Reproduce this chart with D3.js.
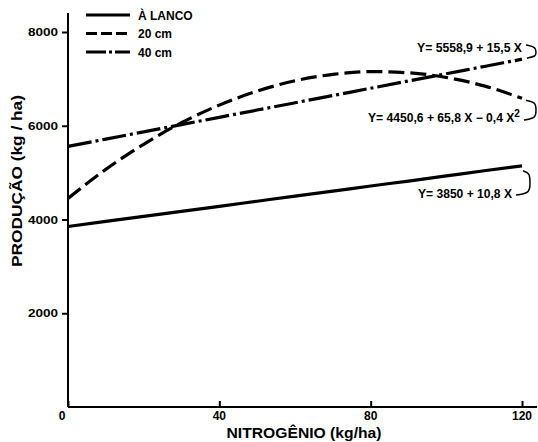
<!DOCTYPE html>
<html lang="pt">
<head>
<meta charset="UTF-8">
<script src="https://cdn.jsdelivr.net/npm/d3@7"></script>
<title>Produção x Nitrogênio</title>
<style>
  body { margin: 0; background: #fff; }
  svg text { font-family: "Liberation Sans", Arial, sans-serif; font-weight: bold; fill: #000; }
  .axis path, .axis line { stroke: #000; stroke-width: 2; }
</style>
</head>
<body>
<div id="chart"></div>
<script>
// valores (kg/ha)
var nitrogenio = [0, 10, 20, 30, 40, 50, 60, 70, 80, 90, 100, 110, 120];
var lanco = [3850, 3960, 4065, 4175, 4280, 4390, 4500, 4605, 4715, 4820, 4930, 5040, 5145];
var cm20 = [4450, 5070, 5605, 6065, 6440, 6740, 6960, 7095, 7155, 7130, 7030, 6850, 6585];
var cm40 = [5560, 5715, 5870, 6025, 6180, 6335, 6490, 6645, 6800, 6955, 7110, 7265, 7420];
var xTicks = [0, 40, 80, 120];
var yTicks = [2000, 4000, 6000, 8000];
var seriesNames = ["À LANCO", "20 cm", "40 cm"];
var equacoes = ["Y= 3850 + 10,8 X", "Y= 4450,6 + 65,8 X − 0,4 X", "Y= 5558,9 + 15,5 X"];

var width = 538, height = 442;
var svg = d3.select("#chart").append("svg")
    .attr("width", width).attr("height", height);

var x = d3.scaleLinear().domain([0, 120]).range([68, 522]);
var y = d3.scaleLinear().domain([0, 8000]).range([407, 32]);

// eixo x
var xAxis = svg.append("g").attr("class", "axis")
    .attr("transform", "translate(0," + y(0) + ")")
    .call(d3.axisTop(x).tickValues(xTicks).tickSize(6).tickFormat(""));
xAxis.select(".domain").attr("d", "M" + x(0) + ",0H537");
xAxis.selectAll(".tick line").attr("stroke-width", 1.5);
svg.selectAll(".xlab").data(xTicks).enter().append("text")
    .attr("x", function(d) { return d === 0 ? x(d) - 6 : x(d); })
    .attr("y", 420).attr("text-anchor", "middle")
    .style("font-size", "12px").text(function(d) { return d; });

// eixo y
var yAxis = svg.append("g").attr("class", "axis")
    .attr("transform", "translate(" + x(0) + ",0)")
    .call(d3.axisLeft(y).tickValues(yTicks).tickSize(6).tickFormat(""));
yAxis.select(".domain").attr("d", "M0,13V" + y(0));
yAxis.selectAll(".tick line").attr("stroke-width", 1.5);
svg.selectAll(".ylab").data(yTicks).enter().append("text")
    .attr("x", 58).attr("y", function(d) { return y(d) + 4; })
    .attr("text-anchor", "end")
    .attr("textLength", 30).attr("lengthAdjust", "spacingAndGlyphs")
    .style("font-size", "11px").text(function(d) { return d; });

// títulos
svg.append("text").attr("x", 304).attr("y", 438).attr("text-anchor", "middle")
    .attr("textLength", 155).attr("lengthAdjust", "spacingAndGlyphs")
    .style("font-size", "14px").text("NITROGÊNIO (kg/ha)");
svg.append("text").attr("transform", "translate(22,181) rotate(-90)")
    .attr("text-anchor", "middle")
    .attr("textLength", 172).attr("lengthAdjust", "spacingAndGlyphs")
    .style("font-size", "14px").text("PRODUÇÃO  (kg / ha)");

// linhas
var dashes = [null, "16,6", "24,4,3,4"];
var series = [lanco, cm20, cm40];
var line = d3.line()
    .x(function(d, i) { return x(nitrogenio[i]); })
    .y(function(d) { return y(d); })
    .curve(d3.curveMonotoneX);
series.forEach(function(s, k) {
  svg.append("path").datum(s)
    .attr("d", line)
    .attr("fill", "none").attr("stroke", "#000")
    .attr("stroke-width", 3.2)
    .attr("stroke-dasharray", dashes[k]);
});

// legenda
seriesNames.forEach(function(n, k) {
  var ly = 15 + k * 18.5;
  svg.append("line").attr("x1", 86).attr("x2", 130).attr("y1", ly).attr("y2", ly)
    .attr("stroke", "#000").attr("stroke-width", 3.2)
    .attr("stroke-dasharray", k === 0 ? null : (k === 1 ? "11,4" : "20,3,3,3"));
  svg.append("text").attr("x", 138).attr("y", ly + 4.5)
    .style("font-size", "12px").text(n);
});

// equações
var eqPos = [[512, 198], [520, 122], [522, 52]];
var eqLen = [94, 152, 105];
equacoes.forEach(function(t, k) {
  var tx = svg.append("text").attr("x", eqPos[k][0]).attr("y", eqPos[k][1])
    .attr("text-anchor", "end")
    .attr("textLength", eqLen[k]).attr("lengthAdjust", "spacingAndGlyphs")
    .style("font-size", "12px");
  tx.append("tspan").text(t);
  if (k === 1) tx.append("tspan").attr("dy", -5).style("font-size", "10px").text("2");
});

// chaves com seta
var last = nitrogenio.length - 1;
var brackets = [
  [[x(120) + 1, y(lanco[last]) + 5], [x(120) + 8, y(lanco[last]) + 18], [516, 195]],
  [[x(120) + 4, y(cm20[last]) + 2], [x(120) + 14, y(cm20[last]) + 12], [524, 120]],
  [[526, 45], [536, 53], [x(120) + 5, y(cm40[last]) - 1]]
];
var arc = d3.line().curve(d3.curveBasis);
brackets.forEach(function(b) {
  var p0 = b[0], p1 = b[1], p2 = b[2];
  var pts = [p0, [p1[0], p0[1] + 2], p1, [p1[0], p2[1] - 2], p2];
  svg.append("path").attr("d", arc(pts))
    .attr("fill", "none").attr("stroke", "#000").attr("stroke-width", 1.5);
});
</script>
</body>
</html>
